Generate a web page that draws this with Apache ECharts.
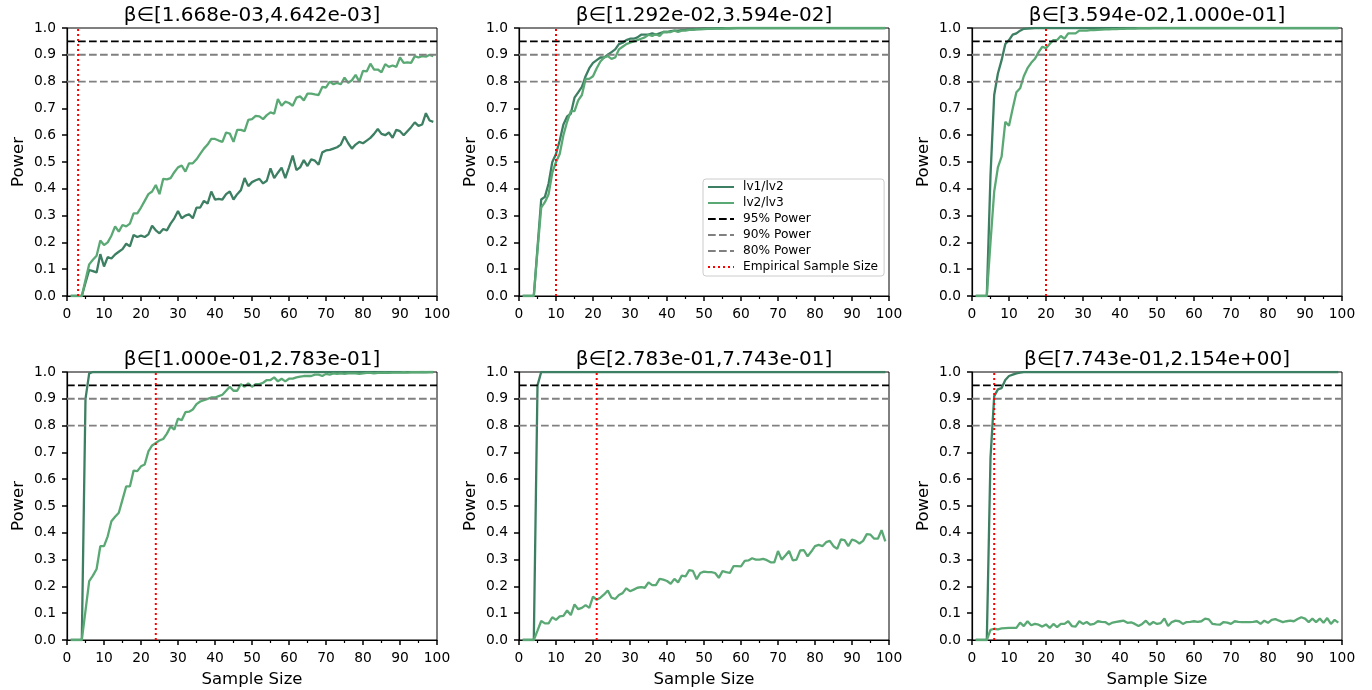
<!DOCTYPE html>
<html>
<head>
<meta charset="utf-8">
<title>Power vs Sample Size</title>
<script src="https://cdn.jsdelivr.net/npm/echarts@6/dist/echarts.min.js"></script>
<style>
  html, body { margin: 0; padding: 0; background: #fff; }
  #PowerGrid { width: 1372px; height: 690px; }
</style>
</head>
<body>
<div id="PowerGrid"></div>
<script>
// x values: sample size 1..99
var sampleSizes = [];
for (var n = 1; n <= 99; n++) sampleSizes.push(n);

var titles = [
  'β∈[1.668e-03,4.642e-03]', 'β∈[1.292e-02,3.594e-02]', 'β∈[3.594e-02,1.000e-01]',
  'β∈[1.000e-01,2.783e-01]', 'β∈[2.783e-01,7.743e-01]', 'β∈[7.743e-01,2.154e+00]'
];
var empiricalSize = [3, 10, 20, 24, 21, 6];
var powerLevels = [0.95, 0.9, 0.8];
var powerNames = ['95% Power', '90% Power', '80% Power'];
var yTicks = [0, 0.1, 0.2, 0.3, 0.4, 0.5, 0.6, 0.7, 0.8, 0.9, 1.0];

// lv1/lv2 power per panel
var lv12_p1 = [0, 0, 0, 0, 0.05, 0.097, 0.093, 0.088, 0.156, 0.11,
  0.145, 0.14, 0.155, 0.165, 0.175, 0.195, 0.185, 0.228, 0.22, 0.225,
  0.22, 0.23, 0.262, 0.245, 0.234, 0.25, 0.245, 0.27, 0.29, 0.317,
  0.29, 0.3, 0.305, 0.29, 0.33, 0.33, 0.355, 0.345, 0.39, 0.36,
  0.362, 0.36, 0.38, 0.39, 0.36, 0.38, 0.395, 0.44, 0.41, 0.425,
  0.432, 0.437, 0.42, 0.43, 0.476, 0.44, 0.46, 0.479, 0.44, 0.48,
  0.524, 0.47, 0.48, 0.507, 0.485, 0.51, 0.505, 0.49, 0.536, 0.543,
  0.545, 0.55, 0.555, 0.565, 0.595, 0.57, 0.55, 0.565, 0.575, 0.57,
  0.58, 0.59, 0.605, 0.623, 0.605, 0.6, 0.61, 0.59, 0.62, 0.615,
  0.6, 0.615, 0.63, 0.648, 0.635, 0.64, 0.682, 0.655, 0.65];
var lv12_p2 = [0, 0, 0, 0, 0.18, 0.36, 0.37, 0.42, 0.5, 0.53,
  0.58, 0.64, 0.67, 0.68, 0.74, 0.76, 0.78, 0.82, 0.85, 0.87,
  0.88, 0.89, 0.89, 0.9, 0.91, 0.92, 0.94, 0.945, 0.955, 0.96,
  0.96, 0.965, 0.975, 0.975, 0.975, 0.98, 0.975, 0.98, 0.985, 0.985,
  0.988, 0.99, 0.99, 0.992, 0.993, 0.995, 0.995, 0.996, 0.997, 0.998,
  0.998, 0.998, 0.999, 0.999, 0.999, 0.999, 0.999, 1, 1, 1,
  1, 1, 1, 1, 1, 1, 1, 1, 1, 1,
  1, 1, 1, 1, 1, 1, 1, 1, 1, 1,
  1, 1, 1, 1, 1, 1, 1, 1, 1, 1,
  1, 1, 1, 1, 1, 1, 1, 1, 1];
var lv12_p3 = [0, 0, 0, 0, 0.45, 0.75, 0.83, 0.88, 0.94, 0.955,
  0.975, 0.98, 0.99, 0.997, 0.998, 0.999, 1, 1, 1, 1,
  1, 1, 1, 1, 1, 1, 1, 1, 1, 1,
  1, 1, 1, 1, 1, 1, 1, 1, 1, 1,
  1, 1, 1, 1, 1, 1, 1, 1, 1, 1,
  1, 1, 1, 1, 1, 1, 1, 1, 1, 1,
  1, 1, 1, 1, 1, 1, 1, 1, 1, 1,
  1, 1, 1, 1, 1, 1, 1, 1, 1, 1,
  1, 1, 1, 1, 1, 1, 1, 1, 1, 1,
  1, 1, 1, 1, 1, 1, 1, 1, 1];
var lv12_p4 = [0, 0, 0, 0, 0.9, 0.995, 1, 1, 1, 1,
  1, 1, 1, 1, 1, 1, 1, 1, 1, 1,
  1, 1, 1, 1, 1, 1, 1, 1, 1, 1,
  1, 1, 1, 1, 1, 1, 1, 1, 1, 1,
  1, 1, 1, 1, 1, 1, 1, 1, 1, 1,
  1, 1, 1, 1, 1, 1, 1, 1, 1, 1,
  1, 1, 1, 1, 1, 1, 1, 1, 1, 1,
  1, 1, 1, 1, 1, 1, 1, 1, 1, 1,
  1, 1, 1, 1, 1, 1, 1, 1, 1, 1,
  1, 1, 1, 1, 1, 1, 1, 1, 1];
var lv12_p5 = [0, 0, 0, 0, 0.95, 1, 1, 1, 1, 1,
  1, 1, 1, 1, 1, 1, 1, 1, 1, 1,
  1, 1, 1, 1, 1, 1, 1, 1, 1, 1,
  1, 1, 1, 1, 1, 1, 1, 1, 1, 1,
  1, 1, 1, 1, 1, 1, 1, 1, 1, 1,
  1, 1, 1, 1, 1, 1, 1, 1, 1, 1,
  1, 1, 1, 1, 1, 1, 1, 1, 1, 1,
  1, 1, 1, 1, 1, 1, 1, 1, 1, 1,
  1, 1, 1, 1, 1, 1, 1, 1, 1, 1,
  1, 1, 1, 1, 1, 1, 1, 1, 1];
var lv12_p6 = [0, 0, 0, 0, 0.68, 0.91, 0.935, 0.94, 0.97, 0.985,
  0.99, 0.995, 0.998, 1, 1, 1, 1, 1, 1, 1,
  1, 1, 1, 1, 1, 1, 1, 1, 1, 1,
  1, 1, 1, 1, 1, 1, 1, 1, 1, 1,
  1, 1, 1, 1, 1, 1, 1, 1, 1, 1,
  1, 1, 1, 1, 1, 1, 1, 1, 1, 1,
  1, 1, 1, 1, 1, 1, 1, 1, 1, 1,
  1, 1, 1, 1, 1, 1, 1, 1, 1, 1,
  1, 1, 1, 1, 1, 1, 1, 1, 1, 1,
  1, 1, 1, 1, 1, 1, 1, 1, 1];

// lv2/lv3 power per panel
var lv23_p1 = [0, 0, 0, 0, 0.06, 0.118, 0.135, 0.15, 0.207, 0.19,
  0.2, 0.225, 0.26, 0.24, 0.265, 0.26, 0.27, 0.308, 0.308, 0.33,
  0.355, 0.38, 0.39, 0.414, 0.38, 0.437, 0.435, 0.44, 0.462, 0.48,
  0.487, 0.464, 0.495, 0.495, 0.51, 0.53, 0.55, 0.565, 0.586, 0.586,
  0.58, 0.575, 0.61, 0.606, 0.575, 0.62, 0.62, 0.615, 0.657, 0.66,
  0.672, 0.67, 0.66, 0.675, 0.685, 0.68, 0.735, 0.71, 0.725, 0.72,
  0.71, 0.74, 0.745, 0.73, 0.755, 0.755, 0.752, 0.75, 0.78, 0.778,
  0.8, 0.79, 0.795, 0.79, 0.815, 0.795, 0.805, 0.825, 0.8, 0.84,
  0.838, 0.867, 0.845, 0.845, 0.835, 0.865, 0.855, 0.86, 0.855, 0.89,
  0.87, 0.872, 0.87, 0.895, 0.89, 0.895, 0.893, 0.9, 0.895];
var lv23_p2 = [0, 0, 0, 0, 0.17, 0.33, 0.35, 0.38, 0.46, 0.5,
  0.53, 0.6, 0.65, 0.69, 0.69, 0.73, 0.75, 0.81, 0.81, 0.82,
  0.85, 0.875, 0.89, 0.895, 0.885, 0.89, 0.92, 0.93, 0.94, 0.945,
  0.95, 0.955, 0.96, 0.965, 0.975, 0.97, 0.978, 0.97, 0.985, 0.985,
  0.985, 0.99, 0.985, 0.99, 0.99, 0.993, 0.993, 0.995, 0.995, 0.996,
  0.997, 0.997, 0.998, 0.998, 0.998, 0.999, 0.999, 0.999, 1, 1,
  1, 1, 1, 1, 1, 1, 1, 1, 1, 1,
  1, 1, 1, 1, 1, 1, 1, 1, 1, 1,
  1, 1, 1, 1, 1, 1, 1, 1, 1, 1,
  1, 1, 1, 1, 1, 1, 1, 1, 1];
var lv23_p3 = [0, 0, 0, 0, 0.2, 0.39, 0.48, 0.52, 0.65, 0.635,
  0.7, 0.76, 0.775, 0.82, 0.85, 0.87, 0.885, 0.91, 0.93, 0.925,
  0.94, 0.955, 0.955, 0.97, 0.96, 0.98, 0.98, 0.98, 0.99, 0.99,
  0.99, 0.992, 0.992, 0.993, 0.994, 0.995, 0.995, 0.996, 0.996, 0.997,
  0.997, 0.998, 0.998, 0.998, 0.999, 0.999, 0.999, 0.999, 1, 1,
  1, 1, 1, 1, 1, 1, 1, 1, 1, 1,
  1, 1, 1, 1, 1, 1, 1, 1, 1, 1,
  1, 1, 1, 1, 1, 1, 1, 1, 1, 1,
  1, 1, 1, 1, 1, 1, 1, 1, 1, 1,
  1, 1, 1, 1, 1, 1, 1, 1, 1];
var lv23_p4 = [0, 0, 0, 0, 0.11, 0.22, 0.24, 0.265, 0.35, 0.35,
  0.387, 0.443, 0.46, 0.475, 0.524, 0.573, 0.573, 0.632, 0.63, 0.648,
  0.655, 0.704, 0.726, 0.735, 0.745, 0.75, 0.77, 0.797, 0.785, 0.826,
  0.82, 0.85, 0.852, 0.86, 0.88, 0.89, 0.895, 0.9, 0.905, 0.905,
  0.91, 0.915, 0.93, 0.945, 0.93, 0.93, 0.955, 0.945, 0.958, 0.945,
  0.955, 0.955, 0.96, 0.97, 0.97, 0.98, 0.965, 0.975, 0.965, 0.975,
  0.975, 0.98, 0.983, 0.985, 0.985, 0.985, 0.99, 0.99, 0.985, 0.993,
  0.99, 0.995, 0.993, 0.995, 0.993, 0.995, 0.995, 0.995, 0.993, 0.995,
  0.997, 0.997, 0.995, 0.997, 0.997, 0.998, 0.997, 0.998, 0.998, 0.998,
  0.999, 0.998, 0.999, 0.999, 0.999, 1, 0.999, 1, 1];
var lv23_p5 = [0, 0, 0, 0, 0.035, 0.071, 0.062, 0.062, 0.085, 0.075,
  0.088, 0.09, 0.11, 0.093, 0.133, 0.115, 0.12, 0.13, 0.12, 0.162,
  0.15, 0.158, 0.17, 0.185, 0.158, 0.153, 0.168, 0.175, 0.193, 0.182,
  0.188, 0.195, 0.197, 0.195, 0.215, 0.205, 0.205, 0.228, 0.225, 0.22,
  0.21, 0.228, 0.215, 0.24, 0.237, 0.261, 0.258, 0.227, 0.25, 0.255,
  0.253, 0.253, 0.25, 0.232, 0.257, 0.253, 0.25, 0.276, 0.276, 0.275,
  0.295, 0.297, 0.305, 0.3, 0.3, 0.303, 0.298, 0.29, 0.29, 0.332,
  0.3, 0.315, 0.332, 0.297, 0.3, 0.334, 0.335, 0.312, 0.33, 0.35,
  0.355, 0.35, 0.365, 0.37, 0.35, 0.34, 0.375, 0.373, 0.35, 0.375,
  0.37, 0.36, 0.37, 0.395, 0.393, 0.378, 0.378, 0.41, 0.368];
var lv23_p6 = [0, 0, 0, 0, 0.038, 0.042, 0.04, 0.043, 0.044, 0.045,
  0.045, 0.045, 0.065, 0.052, 0.07, 0.055, 0.06, 0.057, 0.05, 0.058,
  0.045, 0.06, 0.048, 0.06, 0.06, 0.07, 0.052, 0.05, 0.07, 0.06,
  0.067, 0.057, 0.06, 0.07, 0.068, 0.067, 0.058, 0.065, 0.068, 0.07,
  0.072, 0.064, 0.066, 0.06, 0.052, 0.06, 0.072, 0.057, 0.067, 0.06,
  0.063, 0.08, 0.052, 0.067, 0.072, 0.07, 0.06, 0.067, 0.068, 0.07,
  0.068, 0.07, 0.08, 0.077, 0.06, 0.058, 0.057, 0.067, 0.065, 0.06,
  0.07, 0.068, 0.067, 0.067, 0.067, 0.068, 0.07, 0.06, 0.072, 0.064,
  0.075, 0.078, 0.072, 0.067, 0.07, 0.072, 0.07, 0.078, 0.085, 0.08,
  0.067, 0.08, 0.067, 0.08, 0.064, 0.082, 0.06, 0.075, 0.065];

var lv12 = [lv12_p1, lv12_p2, lv12_p3, lv12_p4, lv12_p5, lv12_p6];
var lv23 = [lv23_p1, lv23_p2, lv23_p3, lv23_p4, lv23_p5, lv23_p6];

var darkGreen = '#3d7f62';
var lightGreen = '#5aa974';
var font = 'DejaVu Sans';

function pairs(values) {
  return values.map(function (v, i) { return [sampleSizes[i], v]; });
}

var myChart = echarts.init(document.getElementById('PowerGrid'));

var gridLefts = [67, 519, 972];
var gridTops = [28, 372];
var grids = [], xAxes = [], yAxes = [], titleList = [], series = [];

for (var p = 0; p < 6; p++) {
  var col = p % 3, row = Math.floor(p / 3);
  grids.push({
    left: gridLefts[col], top: gridTops[row], width: 370, height: 268,
    show: true, borderColor: '#000', borderWidth: 1, backgroundColor: 'transparent'
  });
  titleList.push({
    text: titles[p],
    left: gridLefts[col] + 185, top: gridTops[row] - 22,
    textAlign: 'center', padding: 0,
    textStyle: { fontFamily: font, fontSize: 20, fontWeight: 'normal', color: '#000' }
  });
  xAxes.push({
    gridIndex: p, type: 'value', min: 0, max: 100, interval: 10,
    name: row === 1 ? 'Sample Size' : '', nameLocation: 'middle', nameGap: 31,
    nameTextStyle: { fontFamily: font, fontSize: 16.5, color: '#000' },
    axisLine: { show: true, onZero: false, lineStyle: { color: '#000', width: 1.2 } },
    axisTick: { show: true, length: 5, lineStyle: { color: '#000', width: 1.5 } },
    minorTick: { show: true, splitNumber: 2, length: 3, lineStyle: { color: '#000', width: 1.2 } },
    axisLabel: { fontFamily: font, fontSize: 13.8, color: '#000', margin: 11 },
    splitLine: { show: false }
  });
  yAxes.push({
    gridIndex: p, type: 'value', min: yTicks[0], max: yTicks[yTicks.length - 1], interval: 0.1,
    name: 'Power', nameLocation: 'middle', nameGap: 40,
    nameTextStyle: { fontFamily: font, fontSize: 16.5, color: '#000' },
    axisLine: { show: true, lineStyle: { color: '#000', width: 1.2 } },
    axisTick: { show: true, length: 5, lineStyle: { color: '#000', width: 1.5 } },
    axisLabel: {
      fontFamily: font, fontSize: 13.8, color: '#000', margin: 11,
      formatter: function (v) { return v.toFixed(1); }
    },
    splitLine: { show: false }
  });

  series.push({
    name: 'lv1/lv2', type: 'line', xAxisIndex: p, yAxisIndex: p,
    data: pairs(lv12[p]), symbol: 'none', lineStyle: { color: darkGreen, width: 2.3 },
    itemStyle: { color: darkGreen }
  });
  series.push({
    name: 'lv2/lv3', type: 'line', xAxisIndex: p, yAxisIndex: p,
    data: pairs(lv23[p]), symbol: 'none', lineStyle: { color: lightGreen, width: 2.3 },
    itemStyle: { color: lightGreen }
  });
  for (var k = 0; k < powerLevels.length; k++) {
    var c = k === 0 ? '#000' : '#808080';
    series.push({
      name: powerNames[k], type: 'line', xAxisIndex: p, yAxisIndex: p,
      data: [[0, powerLevels[k]], [100, powerLevels[k]]], symbol: 'none',
      lineStyle: { color: c, width: 1.9, type: [7.7, 3.3] }, itemStyle: { color: c }
    });
  }
  series.push({
    name: 'Empirical Sample Size', type: 'line', xAxisIndex: p, yAxisIndex: p,
    data: [[empiricalSize[p], 0], [empiricalSize[p], 1]], symbol: 'none',
    lineStyle: { color: '#ff0000', width: 2, type: [2, 3] }, itemStyle: { color: '#ff0000' }
  });
}

var option = {
  animation: false,
  backgroundColor: '#fff',
  title: titleList,
  legend: {
    orient: 'vertical', left: 703, top: 179,
    data: ['lv1/lv2', 'lv2/lv3', '95% Power', '90% Power', '80% Power', 'Empirical Sample Size'],
    itemWidth: 26, itemHeight: 14, itemGap: 4,
    padding: [2, 6, 3, 4],
    backgroundColor: 'rgba(255,255,255,0.8)', borderColor: '#cccccc', borderWidth: 1, borderRadius: 3,
    selectedMode: false,
    itemStyle: { opacity: 0 },
    textStyle: { fontFamily: font, fontSize: 12.2, color: '#000', padding: [0, 0, 0, 4] }
  },
  grid: grids,
  xAxis: xAxes,
  yAxis: yAxes,
  series: series
};

myChart.setOption(option, true);
</script>
</body>
</html>
